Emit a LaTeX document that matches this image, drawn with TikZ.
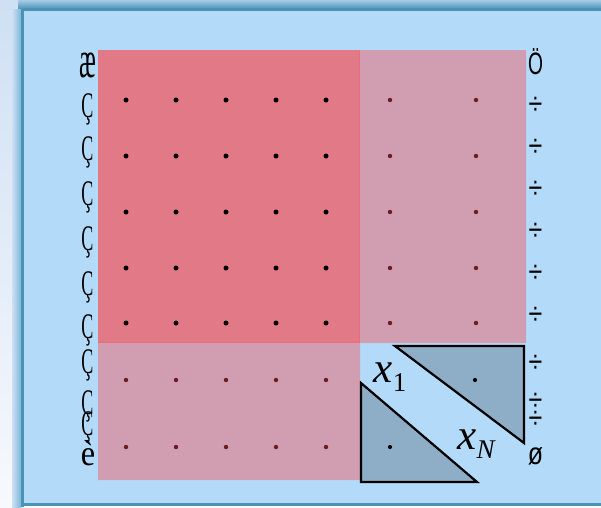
\documentclass[tikz,border=0pt]{standalone}
\usepackage{fontspec}
\setmainfont{Liberation Serif}
\newfontfamily\glyphsans{Liberation Sans}
\definecolor{bgtop}{HTML}{CFE0F4}
\definecolor{bgbot}{HTML}{F7F9FC}
\definecolor{boxfill}{HTML}{B3DBF9}
\definecolor{boxline}{HTML}{4B93B5}
\definecolor{shadowline}{HTML}{7DB6DA}
\definecolor{blockred}{HTML}{E17A86}
\definecolor{edgered}{HTML}{EA6E7A}
\definecolor{blockpink}{HTML}{D19DB0}
\definecolor{dotred}{HTML}{6B1C22}
\definecolor{trifill}{HTML}{8EAEC8}
\newcommand{\varsub}[2]{\itshape #1\raisebox{-0.22em}{\fontsize{27}{27}\selectfont #2}}

\begin{document}
\begin{tikzpicture}[x=1pt, y=-1pt,
  leftglyph/.style={inner sep=0pt, font=\fontsize{36}{36}\selectfont, xscale=0.5},
  rightglyph/.style={inner sep=0pt, font=\glyphsans\fontsize{31}{31}\selectfont, xscale=0.62},
  tri/.style={fill=trifill, draw=black, line width=2.2pt, line join=miter},
  blackdot/.style={fill=black},
  reddot/.style={fill=dotred},
  xlabel/.style={inner sep=0pt, font=\fontsize{43}{43}\selectfont}]
  \useasboundingbox (0,0) rectangle (601,507);

  % frame and background
  \shade[top color=bgtop, bottom color=bgbot] (0,0) rectangle (601,507);
  \shade[top color=shadowline!50!bgtop, bottom color=boxline] (18,0) rectangle (601,9);
  \shade[left color=bgtop, right color=shadowline] (12,9) rectangle (21,507);
  \fill[boxfill] (24,11) rectangle (601,503);
  \draw[boxline, line width=3pt] (22.5,507) -- (22.5,9.5) -- (601,9.5);
  \draw[boxline, line width=3pt] (22.5,504.5) -- (601,504.5);

  % blocks
  \fill[blockpink] (98,50) -- (526,50) -- (526,343) -- (360,343)
    -- (360,480) -- (98,480) -- cycle;
  \fill[blockred] (98,50) rectangle (360,343);
  \draw[edgered, line width=1.5pt] (359.5,50) -- (359.5,342.5) -- (98,342.5);

  % dots
  \foreach \x in {126,176,226,276,326}{
    \foreach \y in {100,156,212,268,323}
      \fill[blackdot] (\x,\y) circle (2.5);
    \foreach \y in {380,447}
      \fill[reddot] (\x,\y) circle (2.2);
  }
  \foreach \x in {390,476}
    \foreach \y in {100,156,212,268,323}
      \fill[reddot] (\x,\y) circle (2.2);

  % triangles
  \coordinate (ua) at (395,346);
  \coordinate (ub) at (524,346);
  \coordinate (uc) at (524,443);
  \coordinate (la) at (361,383);
  \coordinate (lb) at (361,482);
  \coordinate (lc) at (477,482);
  \draw[tri] (ua) -- (ub) -- (uc) -- cycle;
  \draw[tri] (la) -- (lb) -- (lc) -- cycle;
  \fill[blackdot] (475,380) circle (2.1);
  \fill[blackdot] (390,447) circle (2.1);

  \node[xlabel] (xone) at (390,377) {\varsub{x}{\upshape 1}};
  \node[xlabel] (xlast) at (476,444) {\varsub{x}{N}};

  % bracket glyphs, left
  \node[leftglyph, xscale=1.4, yscale=1.45] (lt) at (88,65) {æ};
  \foreach \y [count=\i] in {109,152,197,242,287,330,365,406,427}
    \node[leftglyph] (l\i) at (87.5,\y) {Ç};
  \node[leftglyph, xscale=1.8] (lbot) at (88,453) {è};

  % bracket glyphs, right
  \node[rightglyph] (rt) at (535.5,62) {Ö};
  \foreach \y [count=\i] in {106,148,190,232,274,316,364,402,420}
    \node[rightglyph, xscale=1.3] (r\i) at (535.5,\y) {÷};
  \node[rightglyph, xscale=1.3] (rbot) at (535.5,456) {ø};
\end{tikzpicture}
\end{document}
